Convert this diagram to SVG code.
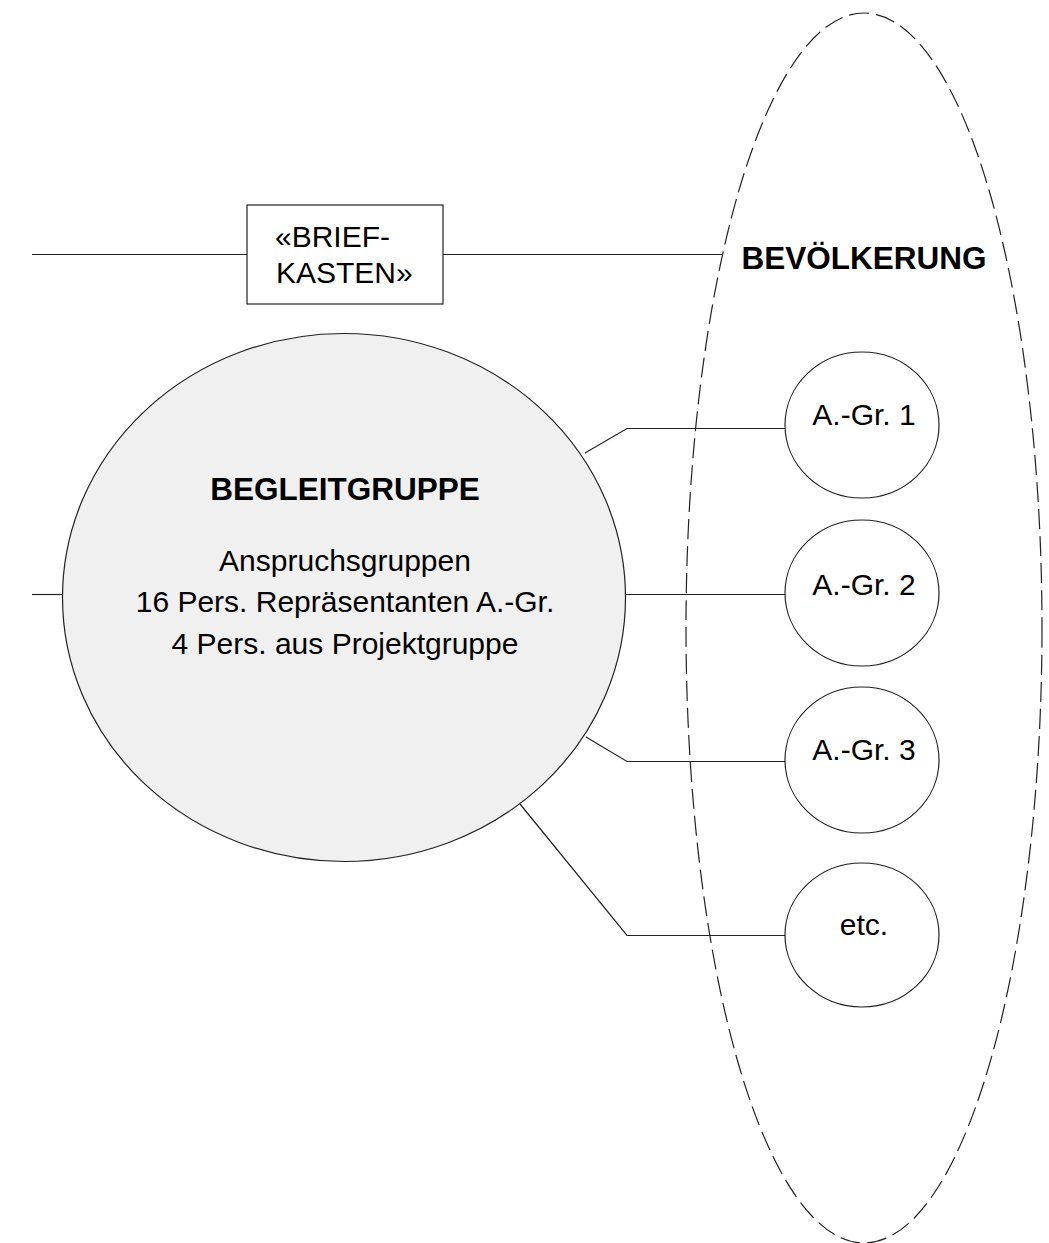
<svg xmlns="http://www.w3.org/2000/svg" width="1049" height="1243" viewBox="0 0 1049 1243">
  <style>
    .ln { fill: none; stroke: #222; stroke-width: 1.2; }
    .txt { font-family: "Liberation Sans", Arial, sans-serif; font-size: 30px; fill: #000; }
    .bold { font-weight: bold; font-size: 31.5px; }
    .mid { text-anchor: middle; }
    .small { fill: #fff; stroke: #222; stroke-width: 1.2; }
  </style>
  <rect width="1049" height="1243" fill="#fff"/>

  <g id="bevoelkerung">
    <ellipse cx="864" cy="628" rx="178" ry="615" fill="none" stroke="#222" stroke-width="1.2" stroke-dasharray="20 7"/>
    <text class="txt bold mid" x="864" y="269">BEVÖLKERUNG</text>
  </g>

  <g id="connectors">
    <polyline class="ln" points="32,254.5 247,254.5"/>
    <polyline class="ln" points="443,254.5 722,254.5"/>
    <polyline class="ln" points="32,594.5 63,594.5"/>
    <polyline class="ln" points="585,453 627,428.5 785,428.5"/>
    <polyline class="ln" points="626,594.5 785,594.5"/>
    <polyline class="ln" points="586,737 627,761.5 785,761.5"/>
    <polyline class="ln" points="520,804 627,935.5 785,935.5"/>
  </g>

  <g id="briefkasten">
    <rect x="247" y="205" width="196" height="99" fill="#fff" stroke="#222" stroke-width="1.2"/>
    <text class="txt" x="275" y="247">«BRIEF-</text>
    <text class="txt" x="276" y="283">KASTEN»</text>
  </g>

  <g id="begleitgruppe">
    <ellipse cx="344" cy="597.5" rx="281.5" ry="264" fill="#f0f0f0" stroke="#222" stroke-width="1.2"/>
    <text class="txt bold mid" x="345" y="500">BEGLEITGRUPPE</text>
    <text class="txt mid" x="345" y="571">Anspruchsgruppen</text>
    <text class="txt mid" x="345" y="612">16 Pers. Repräsentanten A.-Gr.</text>
    <text class="txt mid" x="345" y="654">4 Pers. aus Projektgruppe</text>
  </g>

  <g id="agr1">
    <ellipse class="small" cx="862" cy="425" rx="77" ry="73"/>
    <text class="txt mid" x="864" y="425">A.-Gr. 1</text>
  </g>
  <g id="agr2">
    <ellipse class="small" cx="862" cy="593" rx="77" ry="73"/>
    <text class="txt mid" x="864" y="595">A.-Gr. 2</text>
  </g>
  <g id="agr3">
    <ellipse class="small" cx="862" cy="760" rx="77" ry="73"/>
    <text class="txt mid" x="864" y="760">A.-Gr. 3</text>
  </g>
  <g id="etc">
    <ellipse class="small" cx="862" cy="935" rx="77" ry="72"/>
    <text class="txt mid" x="864" y="935">etc.</text>
  </g>
</svg>
